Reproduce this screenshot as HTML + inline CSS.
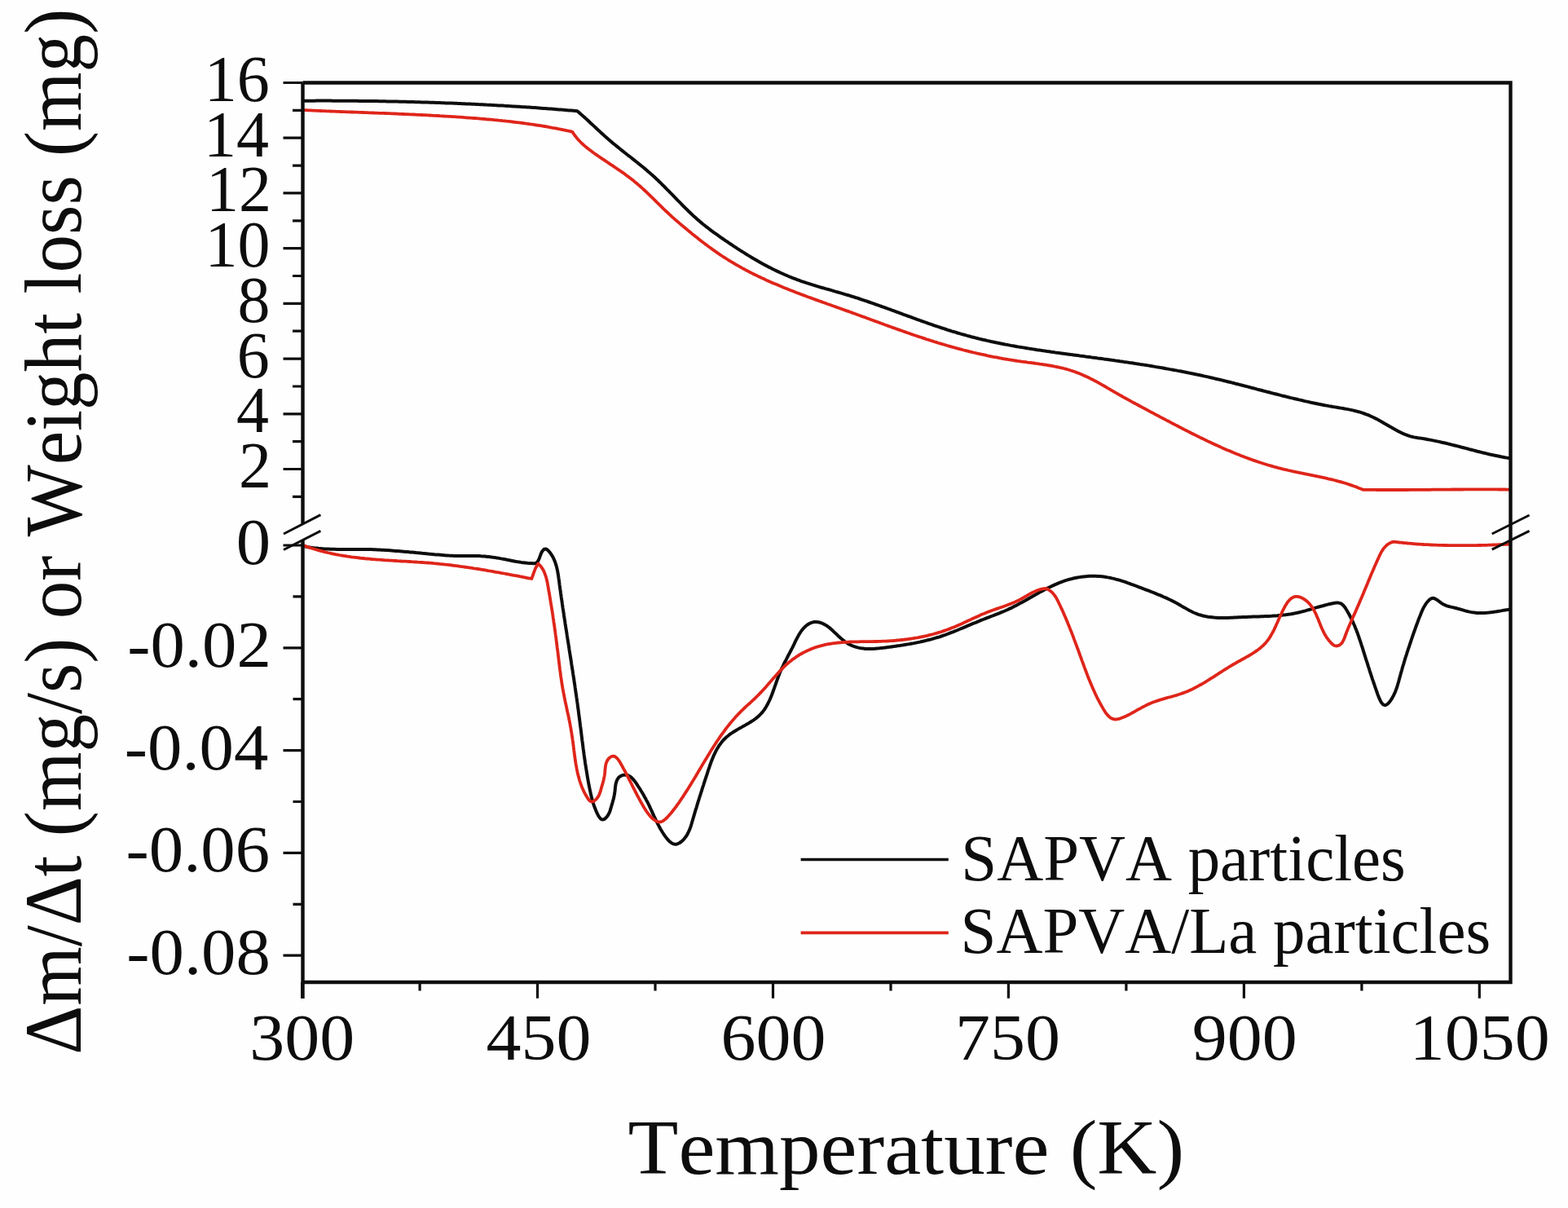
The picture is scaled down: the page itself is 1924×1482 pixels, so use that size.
<!DOCTYPE html><html><head><meta charset="utf-8"><title>TGA/DTG SAPVA</title><style>html,body{margin:0;padding:0;background:#fefefe;}svg{display:block}text{font-family:"Liberation Serif","Times New Roman",serif;font-kerning:none;fill:#0d0d0d}</style></head><body>
<svg width="1924" height="1482" viewBox="0 0 1924 1482">
<rect width="1924" height="1482" fill="#fefefe"/>
<g>
<g fill="none" stroke-linejoin="round" stroke-linecap="round">
<path d="M373.5 123.7L376.0 123.7L378.5 123.7L380.9 123.7L383.4 123.7L385.9 123.7L388.4 123.6L390.9 123.6L393.4 123.6L395.8 123.6L398.3 123.6L400.8 123.6L403.3 123.6L405.8 123.6L408.3 123.7L410.7 123.7L413.2 123.7L415.7 123.7L418.2 123.7L420.7 123.7L423.2 123.7L425.6 123.7L428.1 123.8L430.6 123.8L433.1 123.8L435.6 123.8L438.1 123.8L440.5 123.9L443.0 123.9L445.5 123.9L448.0 123.9L450.5 124.0L452.9 124.0L455.4 124.0L457.9 124.1L460.4 124.1L462.9 124.1L465.4 124.2L467.8 124.2L470.3 124.3L472.8 124.3L475.3 124.4L477.8 124.4L480.3 124.4L482.7 124.5L485.2 124.6L487.7 124.6L490.2 124.7L492.7 124.7L495.1 124.8L497.6 124.8L500.1 124.9L502.6 125.0L505.1 125.0L507.6 125.1L510.0 125.2L512.5 125.2L515.0 125.3L517.5 125.4L520.0 125.4L522.4 125.5L524.9 125.6L527.4 125.7L529.9 125.7L532.4 125.8L534.8 125.9L537.3 126.0L539.8 126.1L542.3 126.2L544.8 126.3L547.2 126.4L549.7 126.4L552.2 126.5L554.7 126.6L557.2 126.7L559.7 126.8L562.1 126.9L564.6 127.0L567.1 127.2L569.6 127.3L572.1 127.4L574.5 127.5L577.0 127.6L579.5 127.7L582.0 127.8L584.5 127.9L586.9 128.1L589.4 128.2L591.9 128.3L594.4 128.4L596.8 128.6L599.3 128.7L601.8 128.8L604.3 128.9L606.8 129.1L609.2 129.2L611.7 129.4L614.2 129.5L616.7 129.6L619.2 129.8L621.6 129.9L624.1 130.1L626.6 130.2L629.1 130.4L631.5 130.5L634.0 130.7L636.5 130.8L639.0 131.0L641.5 131.2L643.9 131.3L646.4 131.5L648.9 131.6L651.4 131.8L653.8 132.0L656.3 132.1L658.8 132.3L661.3 132.5L663.7 132.7L666.2 132.9L668.7 133.0L671.2 133.2L673.7 133.4L676.1 133.6L678.6 133.8L681.1 134.0L683.6 134.2L686.0 134.4L688.5 134.6L691.0 134.8L693.5 135.0L695.9 135.2L698.4 135.4L700.9 135.6L703.4 135.8L705.8 136.0L708.3 136.2L710.2 137.8L712.1 139.5L714.0 141.1L715.8 142.8L717.7 144.4L719.5 146.1L721.4 147.8L723.2 149.5L725.0 151.2L726.9 152.9L728.7 154.6L730.5 156.3L732.3 158.0L734.2 159.7L736.0 161.4L737.8 163.1L739.7 164.7L741.5 166.4L743.4 168.1L745.3 169.7L747.1 171.4L749.0 173.0L750.9 174.6L752.8 176.2L754.8 177.8L756.7 179.4L758.6 180.9L760.6 182.5L762.5 184.1L764.5 185.6L766.5 187.2L768.4 188.7L770.4 190.3L772.4 191.8L774.3 193.3L776.3 194.9L778.2 196.4L780.2 198.0L782.2 199.5L784.1 201.1L786.1 202.7L788.0 204.2L789.9 205.8L791.8 207.4L793.7 209.0L795.6 210.7L797.5 212.3L799.4 214.0L801.3 215.6L803.1 217.3L804.9 219.0L806.8 220.7L808.6 222.5L810.4 224.2L812.1 226.0L813.9 227.7L815.7 229.5L817.5 231.3L819.2 233.1L821.0 234.8L822.7 236.6L824.5 238.4L826.2 240.2L828.0 242.0L829.7 243.8L831.4 245.6L833.2 247.4L835.0 249.2L836.7 251.0L838.5 252.8L840.2 254.5L842.0 256.3L843.8 258.0L845.6 259.8L847.4 261.5L849.2 263.2L851.0 264.9L852.9 266.6L854.7 268.2L856.6 269.9L858.5 271.5L860.4 273.1L862.3 274.7L864.2 276.2L866.2 277.8L868.2 279.3L870.1 280.8L872.1 282.3L874.1 283.8L876.1 285.3L878.1 286.7L880.2 288.2L882.2 289.6L884.2 291.1L886.3 292.5L888.3 293.9L890.4 295.3L892.5 296.7L894.5 298.1L896.6 299.5L898.7 300.9L900.8 302.3L902.9 303.7L905.0 305.1L907.1 306.4L909.2 307.8L911.4 309.1L913.5 310.4L915.6 311.8L917.8 313.1L919.9 314.4L922.1 315.7L924.2 317.0L926.4 318.2L928.6 319.5L930.7 320.7L932.9 322.0L935.1 323.2L937.3 324.4L939.5 325.6L941.7 326.7L943.9 327.9L946.2 329.0L948.4 330.2L950.6 331.3L952.9 332.4L955.1 333.4L957.4 334.5L959.7 335.5L961.9 336.5L964.2 337.5L966.5 338.5L968.8 339.5L971.1 340.4L973.4 341.3L975.8 342.2L978.1 343.1L980.4 343.9L982.8 344.8L985.1 345.6L987.5 346.4L989.8 347.2L992.2 347.9L994.6 348.7L996.9 349.4L999.3 350.1L1001.7 350.9L1004.1 351.6L1006.5 352.3L1008.9 353.0L1011.3 353.7L1013.7 354.4L1016.1 355.0L1018.5 355.7L1020.9 356.4L1023.3 357.1L1025.7 357.8L1028.1 358.5L1030.5 359.2L1032.9 359.9L1035.3 360.6L1037.7 361.3L1040.1 362.0L1042.4 362.7L1044.8 363.5L1047.2 364.2L1049.6 365.0L1052.0 365.7L1054.4 366.5L1056.7 367.3L1059.1 368.1L1061.5 368.9L1063.9 369.7L1066.2 370.5L1068.6 371.3L1071.0 372.1L1073.3 373.0L1075.7 373.8L1078.1 374.6L1080.4 375.5L1082.8 376.3L1085.1 377.2L1087.5 378.0L1089.8 378.9L1092.2 379.7L1094.6 380.6L1096.9 381.4L1099.3 382.3L1101.6 383.2L1104.0 384.0L1106.3 384.9L1108.7 385.8L1111.0 386.6L1113.4 387.5L1115.8 388.3L1118.1 389.2L1120.5 390.1L1122.8 390.9L1125.2 391.8L1127.5 392.6L1129.9 393.5L1132.3 394.3L1134.6 395.1L1137.0 396.0L1139.3 396.8L1141.7 397.6L1144.1 398.5L1146.4 399.3L1148.8 400.1L1151.2 400.9L1153.5 401.7L1155.9 402.5L1158.3 403.2L1160.7 404.0L1163.0 404.8L1165.4 405.5L1167.8 406.3L1170.2 407.0L1172.6 407.7L1175.0 408.5L1177.4 409.2L1179.8 409.9L1182.2 410.5L1184.6 411.2L1187.0 411.9L1189.4 412.5L1191.8 413.2L1194.2 413.8L1196.6 414.4L1199.0 415.0L1201.4 415.6L1203.9 416.2L1206.3 416.8L1208.7 417.3L1211.2 417.9L1213.6 418.4L1216.0 419.0L1218.5 419.5L1220.9 420.0L1223.3 420.5L1225.8 421.0L1228.2 421.5L1230.7 422.0L1233.1 422.5L1235.6 422.9L1238.0 423.4L1240.5 423.9L1242.9 424.3L1245.4 424.7L1247.9 425.2L1250.3 425.6L1252.8 426.0L1255.3 426.4L1257.7 426.8L1260.2 427.2L1262.7 427.6L1265.1 428.0L1267.6 428.4L1270.1 428.8L1272.5 429.2L1275.0 429.5L1277.5 429.9L1280.0 430.3L1282.4 430.6L1284.9 431.0L1287.4 431.3L1289.9 431.7L1292.4 432.0L1294.8 432.4L1297.3 432.7L1299.8 433.1L1302.3 433.4L1304.8 433.7L1307.2 434.1L1309.7 434.4L1312.2 434.7L1314.7 435.1L1317.2 435.4L1319.6 435.7L1322.1 436.0L1324.6 436.4L1327.1 436.7L1329.6 437.0L1332.0 437.4L1334.5 437.7L1337.0 438.0L1339.5 438.4L1342.0 438.7L1344.4 439.0L1346.9 439.4L1349.4 439.7L1351.9 440.0L1354.3 440.4L1356.8 440.7L1359.3 441.1L1361.8 441.4L1364.2 441.8L1366.7 442.1L1369.2 442.5L1371.7 442.8L1374.1 443.2L1376.6 443.5L1379.1 443.9L1381.5 444.2L1384.0 444.6L1386.5 445.0L1388.9 445.3L1391.4 445.7L1393.9 446.1L1396.3 446.5L1398.8 446.9L1401.3 447.2L1403.7 447.6L1406.2 448.0L1408.7 448.4L1411.1 448.8L1413.6 449.2L1416.0 449.6L1418.5 450.1L1421.0 450.5L1423.4 450.9L1425.9 451.3L1428.3 451.7L1430.8 452.2L1433.2 452.6L1435.7 453.1L1438.1 453.5L1440.6 454.0L1443.0 454.4L1445.5 454.9L1447.9 455.3L1450.4 455.8L1452.8 456.3L1455.3 456.8L1457.7 457.3L1460.2 457.7L1462.6 458.2L1465.1 458.7L1467.5 459.3L1469.9 459.8L1472.4 460.3L1474.8 460.8L1477.3 461.4L1479.7 461.9L1482.1 462.4L1484.6 463.0L1487.0 463.5L1489.4 464.1L1491.9 464.7L1494.3 465.3L1496.7 465.8L1499.2 466.4L1501.6 467.0L1504.0 467.6L1506.4 468.2L1508.9 468.8L1511.3 469.4L1513.7 470.0L1516.1 470.7L1518.6 471.3L1521.0 471.9L1523.4 472.5L1525.8 473.1L1528.3 473.8L1530.7 474.4L1533.1 475.0L1535.5 475.7L1538.0 476.3L1540.4 476.9L1542.8 477.6L1545.2 478.2L1547.6 478.8L1550.1 479.5L1552.5 480.1L1554.9 480.7L1557.3 481.3L1559.8 482.0L1562.2 482.6L1564.6 483.2L1567.0 483.8L1569.5 484.4L1571.9 485.1L1574.3 485.7L1576.8 486.3L1579.2 486.9L1581.6 487.5L1584.1 488.1L1586.5 488.6L1588.9 489.2L1591.4 489.8L1593.8 490.4L1596.2 490.9L1598.7 491.5L1601.1 492.1L1603.6 492.6L1606.0 493.1L1608.4 493.7L1610.9 494.2L1613.3 494.7L1615.8 495.2L1618.2 495.7L1620.7 496.2L1623.2 496.7L1625.6 497.2L1628.1 497.6L1630.5 498.1L1633.0 498.5L1635.5 499.0L1637.9 499.4L1640.4 499.8L1642.9 500.2L1645.3 500.6L1647.8 501.0L1650.2 501.5L1652.7 501.9L1655.1 502.4L1657.6 502.9L1660.0 503.4L1662.4 504.0L1664.8 504.6L1667.2 505.2L1669.5 505.9L1671.9 506.7L1674.2 507.5L1676.5 508.3L1678.8 509.2L1681.1 510.2L1683.4 511.3L1685.6 512.3L1687.8 513.4L1690.1 514.6L1692.3 515.8L1694.5 517.0L1696.7 518.2L1698.8 519.5L1701.0 520.7L1703.2 522.0L1705.4 523.3L1707.6 524.5L1709.8 525.8L1712.0 527.0L1714.2 528.2L1716.4 529.4L1718.6 530.5L1720.9 531.6L1723.2 532.6L1725.5 533.5L1727.8 534.3L1730.2 535.1L1732.6 535.8L1735.0 536.4L1737.5 536.8L1740.0 537.2L1742.5 537.5L1744.9 537.9L1747.4 538.3L1749.9 538.7L1752.3 539.2L1754.8 539.6L1757.2 540.1L1759.6 540.6L1762.1 541.1L1764.5 541.6L1766.9 542.1L1769.3 542.7L1771.8 543.2L1774.2 543.8L1776.6 544.4L1779.0 545.0L1781.4 545.6L1783.8 546.2L1786.2 546.8L1788.6 547.4L1791.0 548.0L1793.4 548.7L1795.8 549.3L1798.2 549.9L1800.6 550.5L1803.0 551.2L1805.4 551.8L1807.8 552.4L1810.2 553.0L1812.7 553.7L1815.1 554.3L1817.5 554.9L1819.9 555.5L1822.3 556.0L1824.7 556.6L1827.1 557.2L1829.5 557.7L1832.0 558.3L1834.4 558.8L1836.8 559.3L1839.3 559.8L1841.7 560.3L1844.1 560.7L1846.6 561.2L1849.0 561.6L1851.5 562.0" stroke="#0d0d0d" stroke-width="4.0"/>
<path d="M373.5 135.1L376.0 135.2L378.4 135.3L380.9 135.4L383.4 135.6L385.9 135.7L388.4 135.8L390.8 135.9L393.3 136.0L395.8 136.1L398.3 136.2L400.7 136.3L403.2 136.4L405.7 136.5L408.2 136.6L410.7 136.7L413.1 136.8L415.6 136.9L418.1 137.0L420.6 137.1L423.1 137.2L425.6 137.3L428.0 137.4L430.5 137.5L433.0 137.5L435.5 137.6L438.0 137.7L440.5 137.8L442.9 137.9L445.4 138.0L447.9 138.1L450.4 138.2L452.9 138.3L455.4 138.4L457.8 138.5L460.3 138.6L462.8 138.7L465.3 138.8L467.8 138.9L470.3 138.9L472.8 139.0L475.2 139.1L477.7 139.2L480.2 139.3L482.7 139.4L485.2 139.5L487.7 139.6L490.2 139.8L492.6 139.9L495.1 140.0L497.6 140.1L500.1 140.2L502.6 140.3L505.1 140.4L507.6 140.5L510.0 140.6L512.5 140.8L515.0 140.9L517.5 141.0L520.0 141.1L522.5 141.2L525.0 141.4L527.4 141.5L529.9 141.6L532.4 141.8L534.9 141.9L537.4 142.0L539.9 142.2L542.3 142.3L544.8 142.5L547.3 142.6L549.8 142.8L552.3 142.9L554.8 143.1L557.2 143.2L559.7 143.4L562.2 143.6L564.7 143.7L567.2 143.9L569.6 144.1L572.1 144.3L574.6 144.5L577.1 144.6L579.6 144.8L582.0 145.0L584.5 145.2L587.0 145.4L589.5 145.6L591.9 145.8L594.4 146.0L596.9 146.3L599.4 146.5L601.8 146.7L604.3 146.9L606.8 147.2L609.3 147.4L611.7 147.7L614.2 147.9L616.7 148.2L619.1 148.4L621.6 148.7L624.1 148.9L626.5 149.2L629.0 149.5L631.5 149.8L633.9 150.1L636.4 150.4L638.8 150.7L641.3 151.0L643.8 151.3L646.2 151.7L648.7 152.0L651.1 152.4L653.6 152.7L656.0 153.1L658.5 153.5L660.9 153.8L663.4 154.2L665.8 154.6L668.3 155.0L670.7 155.4L673.2 155.9L675.6 156.3L678.0 156.8L680.5 157.2L682.9 157.7L685.3 158.2L687.8 158.6L690.2 159.1L692.6 159.6L695.0 160.2L697.5 160.7L699.9 161.2L702.3 161.8L703.7 163.9L705.2 166.0L706.7 167.9L708.3 169.9L709.9 171.7L711.6 173.5L713.4 175.3L715.2 177.0L717.0 178.6L718.9 180.2L720.8 181.8L722.7 183.3L724.7 184.8L726.7 186.3L728.7 187.8L730.7 189.2L732.8 190.6L734.9 192.0L736.9 193.4L739.0 194.8L741.1 196.2L743.2 197.6L745.3 199.0L747.3 200.4L749.4 201.8L751.5 203.2L753.6 204.6L755.7 206.0L757.7 207.4L759.8 208.8L761.8 210.2L763.9 211.6L765.9 213.1L767.9 214.6L769.9 216.0L771.9 217.5L773.9 219.0L775.9 220.6L777.8 222.1L779.7 223.7L781.7 225.3L783.5 226.9L785.4 228.5L787.3 230.2L789.1 231.8L790.9 233.5L792.7 235.2L794.5 236.9L796.3 238.7L798.1 240.4L799.9 242.1L801.7 243.9L803.5 245.6L805.2 247.4L807.0 249.1L808.8 250.8L810.6 252.6L812.3 254.3L814.1 256.1L815.9 257.8L817.7 259.5L819.5 261.2L821.3 262.9L823.2 264.6L825.0 266.3L826.8 267.9L828.7 269.6L830.6 271.2L832.5 272.8L834.3 274.4L836.2 276.0L838.1 277.6L840.1 279.2L842.0 280.8L843.9 282.4L845.8 284.0L847.8 285.6L849.7 287.2L851.7 288.7L853.6 290.3L855.6 291.8L857.6 293.4L859.5 294.9L861.5 296.5L863.5 298.0L865.5 299.5L867.5 301.0L869.5 302.5L871.6 304.0L873.6 305.4L875.6 306.9L877.7 308.3L879.7 309.8L881.8 311.2L883.8 312.6L885.9 314.0L888.0 315.3L890.1 316.7L892.2 318.0L894.3 319.3L896.4 320.7L898.6 321.9L900.7 323.2L902.8 324.5L905.0 325.7L907.2 326.9L909.3 328.1L911.5 329.3L913.7 330.5L915.9 331.7L918.1 332.8L920.3 334.0L922.5 335.1L924.7 336.2L926.9 337.3L929.2 338.4L931.4 339.5L933.7 340.5L935.9 341.6L938.2 342.6L940.4 343.7L942.7 344.7L945.0 345.7L947.2 346.7L949.5 347.7L951.8 348.6L954.1 349.6L956.4 350.6L958.7 351.5L961.0 352.5L963.3 353.4L965.6 354.3L967.9 355.3L970.3 356.2L972.6 357.1L974.9 358.0L977.2 358.9L979.6 359.8L981.9 360.7L984.2 361.6L986.6 362.4L988.9 363.3L991.3 364.2L993.6 365.0L996.0 365.9L998.3 366.7L1000.7 367.6L1003.0 368.4L1005.4 369.3L1007.7 370.1L1010.1 371.0L1012.4 371.8L1014.8 372.7L1017.1 373.5L1019.5 374.3L1021.9 375.2L1024.2 376.0L1026.6 376.9L1028.9 377.7L1031.3 378.5L1033.6 379.4L1036.0 380.2L1038.4 381.1L1040.7 381.9L1043.1 382.8L1045.4 383.6L1047.8 384.5L1050.1 385.3L1052.5 386.2L1054.8 387.0L1057.1 387.9L1059.5 388.7L1061.8 389.6L1064.2 390.5L1066.5 391.3L1068.9 392.2L1071.2 393.0L1073.5 393.9L1075.9 394.7L1078.2 395.6L1080.6 396.5L1082.9 397.3L1085.3 398.2L1087.6 399.0L1089.9 399.9L1092.3 400.7L1094.6 401.6L1097.0 402.4L1099.3 403.2L1101.7 404.1L1104.0 404.9L1106.4 405.7L1108.7 406.6L1111.1 407.4L1113.4 408.2L1115.8 409.0L1118.1 409.9L1120.5 410.7L1122.8 411.5L1125.2 412.3L1127.5 413.1L1129.9 413.8L1132.3 414.6L1134.6 415.4L1137.0 416.2L1139.4 416.9L1141.7 417.7L1144.1 418.4L1146.5 419.2L1148.8 419.9L1151.2 420.7L1153.6 421.4L1156.0 422.1L1158.4 422.8L1160.8 423.5L1163.2 424.2L1165.5 424.9L1167.9 425.6L1170.3 426.2L1172.7 426.9L1175.2 427.6L1177.6 428.2L1180.0 428.8L1182.4 429.5L1184.8 430.1L1187.2 430.7L1189.6 431.3L1192.1 431.9L1194.5 432.5L1196.9 433.0L1199.4 433.6L1201.8 434.1L1204.2 434.7L1206.7 435.2L1209.1 435.7L1211.6 436.3L1214.0 436.8L1216.5 437.3L1218.9 437.8L1221.4 438.2L1223.8 438.7L1226.3 439.2L1228.8 439.6L1231.2 440.1L1233.7 440.5L1236.2 440.9L1238.6 441.3L1241.1 441.7L1243.6 442.1L1246.1 442.5L1248.6 442.9L1251.0 443.2L1253.5 443.6L1256.0 443.9L1258.5 444.2L1261.0 444.6L1263.5 444.9L1266.0 445.2L1268.5 445.5L1271.0 445.9L1273.4 446.2L1275.9 446.6L1278.4 446.9L1280.9 447.3L1283.3 447.7L1285.8 448.1L1288.3 448.5L1290.7 448.9L1293.1 449.4L1295.6 449.8L1298.0 450.3L1300.4 450.9L1302.8 451.4L1305.2 452.0L1307.6 452.6L1310.0 453.3L1312.3 454.0L1314.7 454.7L1317.0 455.5L1319.3 456.3L1321.6 457.2L1323.9 458.1L1326.2 459.0L1328.5 459.9L1330.7 460.9L1333.0 461.9L1335.2 463.0L1337.4 464.1L1339.6 465.2L1341.8 466.3L1344.0 467.5L1346.2 468.6L1348.4 469.8L1350.6 471.1L1352.7 472.3L1354.9 473.5L1357.1 474.8L1359.2 476.1L1361.4 477.3L1363.5 478.6L1365.7 479.8L1367.8 481.1L1370.0 482.3L1372.2 483.6L1374.3 484.8L1376.5 486.0L1378.7 487.3L1380.9 488.5L1383.0 489.7L1385.2 490.9L1387.4 492.1L1389.6 493.3L1391.8 494.5L1394.0 495.7L1396.1 496.8L1398.3 498.0L1400.5 499.2L1402.7 500.4L1404.9 501.5L1407.1 502.7L1409.3 503.9L1411.5 505.1L1413.7 506.2L1415.9 507.4L1418.1 508.6L1420.3 509.7L1422.5 510.9L1424.7 512.1L1426.9 513.2L1429.2 514.4L1431.4 515.6L1433.6 516.7L1435.8 517.9L1438.0 519.1L1440.2 520.2L1442.4 521.4L1444.7 522.5L1446.9 523.7L1449.1 524.8L1451.3 526.0L1453.5 527.1L1455.8 528.3L1458.0 529.4L1460.2 530.5L1462.5 531.7L1464.7 532.8L1466.9 533.9L1469.2 535.0L1471.4 536.1L1473.7 537.2L1475.9 538.3L1478.2 539.4L1480.4 540.5L1482.7 541.6L1484.9 542.6L1487.2 543.7L1489.5 544.7L1491.7 545.8L1494.0 546.8L1496.3 547.8L1498.6 548.9L1500.8 549.9L1503.1 550.9L1505.4 551.9L1507.7 552.8L1510.0 553.8L1512.3 554.8L1514.6 555.7L1516.9 556.7L1519.2 557.6L1521.5 558.5L1523.8 559.4L1526.1 560.3L1528.5 561.2L1530.8 562.1L1533.1 562.9L1535.5 563.8L1537.8 564.6L1540.2 565.4L1542.5 566.2L1544.9 567.0L1547.2 567.8L1549.6 568.5L1552.0 569.3L1554.3 570.0L1556.7 570.7L1559.1 571.4L1561.5 572.1L1563.9 572.8L1566.3 573.4L1568.7 574.1L1571.1 574.7L1573.5 575.3L1575.9 575.9L1578.4 576.4L1580.8 577.0L1583.2 577.5L1585.7 578.1L1588.1 578.6L1590.5 579.1L1593.0 579.6L1595.4 580.1L1597.9 580.6L1600.3 581.1L1602.8 581.6L1605.2 582.1L1607.7 582.6L1610.1 583.1L1612.6 583.6L1615.0 584.1L1617.5 584.6L1619.9 585.1L1622.4 585.6L1624.8 586.2L1627.2 586.7L1629.7 587.3L1632.1 587.8L1634.5 588.4L1636.9 589.0L1639.3 589.6L1641.8 590.3L1644.2 590.9L1646.6 591.6L1648.9 592.3L1651.3 593.0L1653.7 593.8L1656.1 594.6L1658.4 595.4L1660.8 596.2L1663.1 597.0L1665.5 597.9L1667.8 598.9L1670.1 599.8L1672.4 600.8L1674.9 600.8L1677.4 600.9L1679.9 600.9L1682.3 600.9L1684.8 600.9L1687.3 600.9L1689.8 601.0L1692.3 601.0L1694.8 601.0L1697.3 601.0L1699.8 601.0L1702.2 601.0L1704.7 601.0L1707.2 601.0L1709.7 601.0L1712.2 601.0L1714.7 601.0L1717.2 601.0L1719.7 601.0L1722.1 601.0L1724.6 601.0L1727.1 601.0L1729.6 600.9L1732.1 600.9L1734.6 600.9L1737.1 600.9L1739.5 600.9L1742.0 600.9L1744.5 600.8L1747.0 600.8L1749.5 600.8L1752.0 600.8L1754.5 600.8L1757.0 600.7L1759.4 600.7L1761.9 600.7L1764.4 600.7L1766.9 600.7L1769.4 600.6L1771.9 600.6L1774.4 600.6L1776.9 600.6L1779.4 600.6L1781.8 600.5L1784.3 600.5L1786.8 600.5L1789.3 600.5L1791.8 600.5L1794.3 600.5L1796.8 600.4L1799.3 600.4L1801.7 600.4L1804.2 600.4L1806.7 600.4L1809.2 600.4L1811.7 600.4L1814.2 600.4L1816.7 600.4L1819.2 600.4L1821.6 600.4L1824.1 600.4L1826.6 600.4L1829.1 600.4L1831.6 600.4L1834.1 600.4L1836.6 600.4L1839.1 600.5L1841.5 600.5L1844.0 600.5L1846.5 600.5L1849.0 600.6L1851.5 600.6" stroke="#df251a" stroke-width="3.8"/>
<path d="M373.6 670.3L376.1 670.8L378.5 671.2L381.0 671.6L383.5 672.0L386.0 672.3L388.4 672.5L390.9 672.8L393.4 673.0L395.9 673.2L398.4 673.4L400.9 673.5L403.4 673.6L405.8 673.7L408.3 673.8L410.8 673.8L413.3 673.9L415.8 673.9L418.3 673.9L420.8 673.9L423.3 673.9L425.8 673.9L428.3 673.9L430.8 673.9L433.3 673.9L435.8 673.9L438.3 673.9L440.8 673.9L443.3 673.9L445.8 673.9L448.3 673.9L450.8 674.0L453.3 674.0L455.8 674.1L458.3 674.2L460.8 674.3L463.3 674.4L465.8 674.5L468.3 674.7L470.8 674.8L473.3 675.0L475.8 675.1L478.3 675.3L480.8 675.5L483.3 675.7L485.8 675.9L488.3 676.1L490.8 676.3L493.2 676.5L495.7 676.7L498.2 676.9L500.7 677.1L503.2 677.4L505.7 677.6L508.2 677.8L510.7 678.1L513.2 678.3L515.7 678.5L518.1 678.8L520.6 679.0L523.1 679.2L525.6 679.5L528.1 679.7L530.6 679.9L533.1 680.2L535.6 680.4L538.0 680.6L540.5 680.8L543.0 681.0L545.5 681.2L548.0 681.4L550.5 681.6L553.0 681.7L555.4 681.8L557.9 681.9L560.4 682.0L562.9 682.0L565.4 682.0L567.9 682.0L570.4 682.0L572.9 682.0L575.4 682.0L577.9 682.0L580.3 682.0L582.8 682.0L585.3 682.1L587.8 682.1L590.3 682.3L592.8 682.4L595.2 682.6L597.7 682.9L600.2 683.1L602.6 683.4L605.1 683.8L607.6 684.1L610.0 684.5L612.5 684.9L615.0 685.4L617.4 685.8L619.9 686.3L622.3 686.8L624.8 687.2L627.2 687.7L629.7 688.2L632.2 688.7L634.6 689.1L637.1 689.5L639.6 689.9L642.0 690.2L644.5 690.5L647.0 690.8L649.5 691.0L652.0 691.1L654.5 691.2L657.0 691.2L658.9 689.9L660.3 688.0L661.5 685.6L662.5 682.9L663.5 680.1L664.6 677.5L666.1 675.3L667.7 673.7L669.6 673.4L671.4 674.3L673.1 675.9L674.7 677.8L676.2 679.8L677.5 681.8L678.7 683.9L679.7 686.1L680.7 688.3L681.5 690.6L682.2 692.9L682.9 695.3L683.5 697.7L684.0 700.1L684.5 702.6L684.9 705.1L685.3 707.6L685.6 710.1L686.0 712.6L686.3 715.2L686.6 717.7L687.0 720.2L687.3 722.7L687.7 725.2L688.0 727.7L688.4 730.2L688.7 732.7L689.1 735.2L689.5 737.7L689.8 740.2L690.2 742.7L690.5 745.2L690.9 747.7L691.3 750.2L691.7 752.6L692.0 755.1L692.4 757.6L692.8 760.1L693.2 762.5L693.5 765.0L693.9 767.5L694.3 770.0L694.7 772.4L695.1 774.9L695.5 777.4L695.8 779.8L696.2 782.3L696.6 784.7L697.0 787.2L697.4 789.7L697.8 792.1L698.2 794.6L698.5 797.0L698.9 799.5L699.3 802.0L699.7 804.4L700.1 806.9L700.5 809.3L700.9 811.8L701.2 814.2L701.6 816.7L702.0 819.2L702.4 821.6L702.8 824.1L703.1 826.5L703.5 829.0L703.9 831.4L704.3 833.9L704.6 836.4L705.0 838.8L705.4 841.3L705.7 843.7L706.1 846.2L706.4 848.7L706.8 851.1L707.2 853.6L707.5 856.1L707.9 858.5L708.2 861.0L708.6 863.5L708.9 866.0L709.2 868.4L709.6 870.9L709.9 873.4L710.2 875.9L710.5 878.4L710.9 880.9L711.2 883.3L711.5 885.8L711.8 888.3L712.1 890.8L712.5 893.3L712.8 895.8L713.1 898.3L713.4 900.8L713.7 903.3L714.0 905.8L714.3 908.3L714.7 910.8L715.0 913.3L715.3 915.8L715.6 918.2L716.0 920.7L716.3 923.2L716.6 925.7L717.0 928.2L717.3 930.7L717.7 933.1L718.0 935.6L718.4 938.1L718.8 940.5L719.2 943.0L719.6 945.5L720.0 947.9L720.4 950.4L720.8 952.8L721.2 955.2L721.6 957.7L722.1 960.1L722.5 962.5L723.0 964.9L723.5 967.4L724.0 969.8L724.5 972.2L725.0 974.6L725.6 977.0L726.2 979.4L726.8 981.8L727.5 984.2L728.3 986.6L729.1 989.1L730.1 991.6L731.1 994.1L732.2 996.6L733.4 999.1L734.7 1001.6L736.2 1003.6L737.7 1005.1L739.5 1005.6L741.3 1005.1L743.2 1003.6L745.0 1001.6L746.5 999.3L747.7 996.9L748.7 994.4L749.4 991.9L750.1 989.5L750.8 987.1L751.5 984.8L752.1 982.5L752.8 980.2L753.3 977.8L753.8 975.4L754.2 972.9L754.6 970.3L754.8 967.6L755.1 964.9L755.5 962.3L756.1 959.8L756.9 957.5L758.0 955.4L759.4 953.6L761.3 952.2L763.7 951.1L766.2 950.6L768.6 950.7L770.8 951.3L772.9 952.4L774.8 953.8L776.5 955.6L778.2 957.6L779.8 959.7L781.3 961.9L782.7 964.1L784.2 966.3L785.6 968.5L786.9 970.7L788.2 972.8L789.5 975.0L790.7 977.2L792.0 979.4L793.1 981.6L794.3 983.8L795.4 985.9L796.5 988.1L797.5 990.3L798.5 992.5L799.5 994.7L800.5 996.9L801.5 999.1L802.5 1001.3L803.6 1003.5L804.6 1005.7L805.7 1008.0L806.8 1010.2L808.0 1012.4L809.2 1014.7L810.4 1017.0L811.8 1019.2L813.2 1021.5L814.7 1023.8L816.3 1026.1L818.0 1028.4L819.8 1030.5L821.6 1032.4L823.6 1033.9L825.6 1035.1L827.6 1035.7L829.7 1035.7L831.9 1035.1L834.0 1034.0L836.1 1032.5L838.1 1030.7L839.9 1028.6L841.5 1026.5L843.0 1024.3L844.2 1022.0L845.3 1019.7L846.3 1017.4L847.2 1015.0L848.0 1012.6L848.7 1010.2L849.4 1007.8L850.1 1005.4L850.8 1003.0L851.5 1000.6L852.2 998.3L852.9 995.9L853.6 993.5L854.4 991.1L855.1 988.8L855.8 986.4L856.5 984.0L857.3 981.7L858.0 979.3L858.7 977.0L859.5 974.6L860.2 972.3L861.0 969.9L861.7 967.5L862.5 965.2L863.3 962.8L864.0 960.4L864.8 958.0L865.6 955.6L866.4 953.2L867.2 950.8L868.0 948.4L868.7 946.0L869.5 943.6L870.4 941.2L871.2 938.7L872.1 936.3L872.9 933.9L873.9 931.6L874.8 929.2L875.8 926.9L876.9 924.6L878.0 922.4L879.1 920.2L880.3 918.1L881.6 916.0L882.9 913.9L884.4 912.0L885.8 910.1L887.4 908.2L889.1 906.5L890.8 904.8L892.7 903.2L894.6 901.7L896.6 900.2L898.7 898.8L900.8 897.5L902.9 896.2L905.1 894.9L907.3 893.6L909.6 892.4L911.8 891.1L914.0 889.9L916.2 888.6L918.4 887.4L920.6 886.0L922.7 884.7L924.8 883.3L926.8 881.9L928.7 880.4L930.6 878.8L932.3 877.1L934.0 875.4L935.6 873.6L937.1 871.6L938.5 869.7L939.8 867.6L941.0 865.5L942.2 863.3L943.3 861.0L944.4 858.8L945.4 856.4L946.4 854.1L947.3 851.7L948.2 849.3L949.1 846.8L950.0 844.4L950.8 841.9L951.7 839.5L952.5 837.1L953.4 834.6L954.3 832.2L955.2 829.8L956.1 827.5L957.0 825.1L958.0 822.8L959.0 820.6L960.1 818.3L961.2 816.1L962.2 813.9L963.3 811.8L964.5 809.6L965.6 807.4L966.7 805.3L967.8 803.1L969.0 800.9L970.1 798.8L971.2 796.6L972.4 794.4L973.5 792.1L974.6 789.9L975.6 787.6L976.7 785.4L977.9 783.1L979.1 780.9L980.3 778.6L981.7 776.5L983.1 774.3L984.7 772.3L986.4 770.3L988.2 768.5L990.2 766.9L992.2 765.5L994.3 764.4L996.6 763.6L998.9 763.0L1001.3 762.9L1003.8 763.2L1006.4 763.8L1008.9 764.7L1011.3 765.9L1013.5 767.1L1015.6 768.5L1017.5 769.9L1019.3 771.4L1021.1 773.0L1022.8 774.7L1024.6 776.4L1026.5 778.1L1028.3 779.9L1030.3 781.7L1032.3 783.5L1034.3 785.2L1036.4 786.8L1038.6 788.3L1040.8 789.7L1043.0 790.9L1045.2 792.0L1047.5 792.9L1049.8 793.7L1052.2 794.4L1054.5 794.9L1056.9 795.3L1059.3 795.6L1061.7 795.9L1064.2 796.0L1066.6 796.0L1069.1 796.0L1071.6 795.9L1074.1 795.7L1076.6 795.5L1079.1 795.3L1081.6 795.0L1084.1 794.7L1086.6 794.4L1089.1 794.1L1091.6 793.7L1094.1 793.4L1096.6 793.1L1099.1 792.7L1101.6 792.3L1104.1 792.0L1106.6 791.6L1109.1 791.2L1111.5 790.8L1114.0 790.4L1116.5 790.0L1118.9 789.5L1121.4 789.1L1123.8 788.6L1126.3 788.1L1128.7 787.6L1131.2 787.0L1133.6 786.5L1136.0 785.9L1138.4 785.3L1140.8 784.7L1143.2 784.1L1145.6 783.4L1148.0 782.7L1150.4 782.0L1152.8 781.3L1155.2 780.5L1157.5 779.7L1159.9 778.9L1162.2 778.0L1164.5 777.1L1166.9 776.2L1169.2 775.3L1171.5 774.4L1173.9 773.5L1176.2 772.5L1178.5 771.5L1180.8 770.6L1183.1 769.6L1185.4 768.6L1187.7 767.6L1190.0 766.7L1192.3 765.7L1194.6 764.7L1197.0 763.8L1199.3 762.8L1201.6 761.9L1203.9 760.9L1206.2 760.0L1208.6 759.1L1210.9 758.2L1213.2 757.3L1215.5 756.4L1217.9 755.5L1220.2 754.6L1222.5 753.7L1224.8 752.8L1227.1 751.9L1229.4 750.9L1231.7 750.0L1234.0 749.0L1236.3 748.0L1238.5 746.9L1240.8 745.9L1243.0 744.8L1245.2 743.6L1247.5 742.5L1249.7 741.3L1251.9 740.1L1254.1 738.9L1256.3 737.7L1258.5 736.5L1260.7 735.3L1262.8 734.0L1265.0 732.8L1267.2 731.5L1269.4 730.3L1271.6 729.0L1273.8 727.8L1275.9 726.6L1278.1 725.4L1280.3 724.2L1282.6 723.0L1284.8 721.9L1287.0 720.8L1289.2 719.7L1291.5 718.6L1293.7 717.6L1296.0 716.6L1298.3 715.6L1300.6 714.7L1302.9 713.8L1305.3 712.9L1307.6 712.1L1310.0 711.4L1312.4 710.7L1314.8 710.1L1317.2 709.5L1319.6 709.0L1322.1 708.5L1324.6 708.1L1327.0 707.7L1329.5 707.4L1332.0 707.2L1334.5 707.0L1337.0 706.8L1339.5 706.8L1342.0 706.7L1344.5 706.8L1347.0 706.9L1349.5 707.1L1351.9 707.3L1354.4 707.6L1356.9 707.9L1359.4 708.4L1361.8 708.8L1364.3 709.4L1366.7 709.9L1369.1 710.6L1371.6 711.2L1374.0 711.9L1376.4 712.7L1378.8 713.4L1381.2 714.2L1383.6 715.1L1385.9 715.9L1388.3 716.8L1390.7 717.6L1393.0 718.5L1395.4 719.4L1397.7 720.3L1400.1 721.2L1402.4 722.1L1404.7 723.0L1407.0 723.8L1409.4 724.7L1411.7 725.6L1414.0 726.5L1416.3 727.4L1418.5 728.3L1420.8 729.3L1423.1 730.2L1425.4 731.2L1427.6 732.2L1429.9 733.2L1432.2 734.2L1434.4 735.2L1436.6 736.3L1438.9 737.4L1441.1 738.6L1443.4 739.8L1445.6 741.0L1447.8 742.3L1450.0 743.6L1452.3 744.9L1454.5 746.1L1456.7 747.4L1459.0 748.7L1461.2 749.8L1463.5 751.0L1465.8 752.0L1468.1 752.9L1470.4 753.8L1472.8 754.5L1475.1 755.2L1477.5 755.8L1479.9 756.3L1482.3 756.7L1484.7 757.0L1487.2 757.3L1489.6 757.6L1492.1 757.7L1494.6 757.9L1497.0 757.9L1499.5 758.0L1502.0 758.0L1504.5 757.9L1507.0 757.9L1509.5 757.8L1512.1 757.7L1514.6 757.6L1517.1 757.5L1519.6 757.3L1522.2 757.2L1524.7 757.1L1527.2 757.0L1529.7 756.9L1532.3 756.8L1534.8 756.7L1537.3 756.6L1539.8 756.5L1542.3 756.5L1544.8 756.4L1547.3 756.3L1549.8 756.2L1552.3 756.1L1554.9 756.0L1557.3 755.9L1559.8 755.8L1562.3 755.6L1564.8 755.4L1567.3 755.3L1569.8 755.0L1572.3 754.8L1574.7 754.5L1577.2 754.3L1579.6 753.9L1582.1 753.6L1584.6 753.2L1587.0 752.7L1589.4 752.3L1591.9 751.8L1594.3 751.2L1596.7 750.6L1599.1 750.0L1601.6 749.4L1604.0 748.7L1606.4 748.0L1608.8 747.3L1611.2 746.6L1613.6 745.9L1616.0 745.2L1618.4 744.5L1620.8 743.8L1623.2 743.2L1625.7 742.5L1628.1 741.9L1630.5 741.3L1632.9 740.7L1635.3 740.2L1637.8 739.7L1640.1 739.5L1642.4 739.6L1644.5 740.1L1646.4 741.1L1648.2 742.6L1649.8 744.5L1651.3 746.7L1652.7 749.0L1654.1 751.4L1655.4 753.7L1656.6 756.0L1657.8 758.4L1659.0 760.7L1660.1 763.1L1661.1 765.5L1662.2 767.8L1663.1 770.2L1664.1 772.6L1665.0 774.9L1665.9 777.3L1666.7 779.7L1667.5 782.0L1668.3 784.4L1669.1 786.7L1669.9 789.0L1670.6 791.3L1671.4 793.6L1672.1 795.9L1672.8 798.2L1673.5 800.4L1674.2 802.7L1674.9 804.9L1675.6 807.1L1676.3 809.4L1677.1 811.6L1677.8 813.9L1678.5 816.1L1679.2 818.4L1680.0 820.7L1680.7 823.1L1681.5 825.5L1682.3 827.9L1683.1 830.3L1683.9 832.8L1684.8 835.4L1685.7 838.0L1686.6 840.6L1687.5 843.3L1688.5 846.1L1689.5 849.0L1690.5 851.9L1691.6 854.7L1692.7 857.4L1693.9 859.9L1695.1 862.0L1696.4 863.6L1697.8 864.7L1699.3 865.2L1700.8 864.9L1702.4 863.9L1704.1 862.3L1705.7 860.3L1707.3 857.9L1708.7 855.4L1710.1 852.9L1711.3 850.4L1712.3 848.0L1713.2 845.6L1714.1 843.2L1714.8 840.8L1715.5 838.5L1716.2 836.1L1716.8 833.8L1717.4 831.5L1718.1 829.1L1718.7 826.7L1719.4 824.4L1720.1 822.0L1720.7 819.6L1721.4 817.2L1722.2 814.8L1722.9 812.4L1723.6 810.0L1724.3 807.6L1725.1 805.2L1725.9 802.8L1726.6 800.4L1727.4 798.1L1728.2 795.7L1729.0 793.3L1729.8 790.9L1730.6 788.5L1731.4 786.1L1732.2 783.7L1733.0 781.4L1733.8 779.0L1734.6 776.7L1735.5 774.3L1736.3 772.0L1737.1 769.7L1738.0 767.3L1738.8 765.0L1739.7 762.7L1740.5 760.4L1741.4 758.0L1742.4 755.7L1743.3 753.4L1744.2 751.1L1745.3 748.7L1746.3 746.4L1747.5 744.2L1748.9 742.0L1750.3 739.8L1752.0 737.8L1753.8 735.9L1755.7 734.5L1757.8 733.8L1759.8 734.1L1762.0 735.1L1764.1 736.5L1766.3 738.2L1768.6 739.9L1770.8 741.3L1773.2 742.4L1775.5 743.3L1777.9 744.0L1780.3 744.6L1782.7 745.1L1785.1 745.7L1787.5 746.3L1789.9 747.0L1792.3 747.7L1794.8 748.4L1797.2 749.1L1799.6 749.8L1802.1 750.4L1804.5 750.9L1806.9 751.3L1809.4 751.6L1811.9 751.9L1814.3 752.0L1816.8 752.0L1819.3 752.0L1821.8 751.9L1824.3 751.7L1826.8 751.5L1829.3 751.2L1831.8 750.9L1834.2 750.6L1836.7 750.2L1839.2 749.8L1841.7 749.4L1844.1 748.9L1846.6 748.5L1849.1 748.1L1851.5 747.7" stroke="#0d0d0d" stroke-width="4.0"/>
<path d="M373.4 669.5L375.8 670.4L378.1 671.2L380.5 672.0L382.9 672.8L385.3 673.5L387.7 674.2L390.1 674.9L392.5 675.6L394.9 676.2L397.3 676.8L399.7 677.4L402.1 678.0L404.5 678.5L406.9 679.1L409.3 679.6L411.7 680.1L414.2 680.5L416.6 681.0L419.0 681.4L421.5 681.8L423.9 682.2L426.3 682.6L428.8 682.9L431.2 683.3L433.7 683.6L436.1 683.9L438.6 684.2L441.0 684.5L443.5 684.8L446.0 685.0L448.4 685.3L450.9 685.5L453.3 685.7L455.8 686.0L458.3 686.2L460.7 686.4L463.2 686.6L465.7 686.7L468.1 686.9L470.6 687.1L473.1 687.3L475.6 687.4L478.0 687.6L480.5 687.7L483.0 687.9L485.5 688.0L487.9 688.2L490.4 688.3L492.9 688.5L495.4 688.6L497.9 688.7L500.3 688.9L502.8 689.0L505.3 689.2L507.8 689.3L510.2 689.5L512.7 689.7L515.2 689.8L517.7 690.0L520.1 690.2L522.6 690.4L525.1 690.5L527.5 690.7L530.0 690.9L532.5 691.2L534.9 691.4L537.4 691.6L539.9 691.9L542.3 692.1L544.8 692.4L547.3 692.6L549.7 692.9L552.2 693.2L554.6 693.5L557.1 693.8L559.5 694.1L562.0 694.4L564.4 694.8L566.9 695.1L569.3 695.5L571.8 695.8L574.2 696.2L576.7 696.5L579.1 696.9L581.6 697.3L584.0 697.6L586.5 698.0L588.9 698.4L591.4 698.8L593.8 699.2L596.2 699.6L598.7 700.1L601.1 700.5L603.6 700.9L606.0 701.3L608.4 701.8L610.9 702.2L613.3 702.6L615.8 703.1L618.2 703.5L620.6 704.0L623.1 704.4L625.5 704.9L627.9 705.3L630.4 705.8L632.8 706.2L635.2 706.7L637.7 707.2L640.1 707.6L642.6 708.1L645.0 708.6L647.4 709.1L649.9 709.5L652.3 710.0L653.1 707.9L653.9 705.8L654.6 703.7L655.4 701.5L656.2 699.4L657.0 697.3L658.1 695.4L659.2 693.4L660.4 691.5L662.2 693.3L663.8 695.1L665.2 697.1L666.5 699.2L667.6 701.4L668.5 703.7L669.3 706.0L670.1 708.3L670.7 710.8L671.3 713.2L671.8 715.7L672.2 718.2L672.7 720.7L673.1 723.2L673.5 725.7L674.0 728.1L674.4 730.6L674.8 733.1L675.2 735.5L675.6 738.0L676.0 740.5L676.4 742.9L676.8 745.4L677.2 747.9L677.6 750.3L678.0 752.8L678.4 755.2L678.7 757.7L679.1 760.1L679.4 762.6L679.8 765.0L680.2 767.5L680.5 769.9L680.8 772.4L681.2 774.8L681.5 777.3L681.8 779.8L682.2 782.2L682.5 784.7L682.8 787.2L683.1 789.6L683.4 792.1L683.7 794.6L684.1 797.1L684.4 799.6L684.7 802.0L685.0 804.5L685.3 807.0L685.6 809.5L685.9 812.0L686.2 814.5L686.5 817.0L686.8 819.5L687.1 822.0L687.5 824.5L687.8 827.0L688.1 829.5L688.5 832.0L688.9 834.5L689.2 836.9L689.6 839.4L690.0 841.9L690.4 844.3L690.9 846.8L691.3 849.2L691.8 851.7L692.3 854.1L692.7 856.5L693.2 858.9L693.7 861.4L694.3 863.8L694.8 866.2L695.3 868.6L695.8 871.0L696.3 873.4L696.9 875.8L697.4 878.2L697.9 880.7L698.4 883.1L698.9 885.5L699.4 888.0L699.8 890.4L700.3 892.8L700.7 895.3L701.1 897.8L701.5 900.2L701.9 902.7L702.3 905.2L702.6 907.7L703.0 910.3L703.3 912.8L703.6 915.3L703.9 917.8L704.2 920.3L704.6 922.9L704.9 925.4L705.2 927.9L705.6 930.4L705.9 932.9L706.3 935.4L706.7 937.9L707.2 940.4L707.6 942.9L708.1 945.3L708.6 947.7L709.2 950.2L709.8 952.6L710.5 954.9L711.1 957.3L711.9 959.6L712.7 962.0L713.5 964.2L714.4 966.5L715.4 968.7L716.4 970.9L717.5 973.1L718.7 975.2L719.9 977.3L721.2 979.4L722.6 981.4L724.2 983.0L726.2 983.6L728.5 982.9L730.7 981.3L732.7 979.2L734.3 976.9L735.4 974.5L736.4 971.9L737.1 969.4L737.8 966.9L738.5 964.5L739.2 962.2L739.9 959.8L740.5 957.5L741.0 955.2L741.5 952.8L741.9 950.3L742.2 947.7L742.4 945.1L742.7 942.4L743.0 939.8L743.5 937.2L744.3 934.8L745.5 932.5L747.0 930.5L748.9 928.9L750.8 927.9L752.7 927.7L754.5 928.2L756.2 929.3L757.8 930.9L759.3 932.9L760.7 935.1L762.1 937.5L763.4 939.9L764.7 942.3L766.0 944.6L767.3 947.0L768.5 949.3L769.6 951.6L770.8 953.8L772.0 956.1L773.1 958.3L774.2 960.5L775.3 962.7L776.4 964.9L777.5 967.1L778.6 969.2L779.7 971.4L780.8 973.5L781.9 975.7L783.1 977.8L784.2 980.0L785.4 982.1L786.6 984.2L787.8 986.4L789.0 988.5L790.3 990.7L791.6 992.9L793.0 995.0L794.5 997.1L796.1 999.2L797.8 1001.2L799.6 1003.2L801.7 1005.0L803.8 1006.6L806.1 1007.8L808.3 1008.4L810.5 1008.4L812.6 1007.7L814.7 1006.4L816.6 1004.8L818.5 1003.0L820.3 1001.0L822.0 999.1L823.6 997.2L825.2 995.2L826.7 993.3L828.2 991.3L829.7 989.3L831.1 987.3L832.6 985.3L834.0 983.3L835.4 981.2L836.8 979.2L838.2 977.1L839.5 975.0L840.9 972.9L842.2 970.9L843.6 968.8L844.9 966.6L846.2 964.5L847.5 962.4L848.8 960.3L850.1 958.1L851.4 956.0L852.7 953.9L854.0 951.7L855.3 949.6L856.5 947.4L857.8 945.2L859.1 943.1L860.4 940.9L861.6 938.8L862.9 936.6L864.2 934.5L865.5 932.3L866.8 930.2L868.1 928.0L869.4 925.9L870.7 923.8L872.0 921.6L873.3 919.5L874.7 917.4L876.0 915.3L877.4 913.2L878.7 911.1L880.1 909.0L881.5 907.0L882.9 904.9L884.3 902.9L885.7 900.8L887.2 898.8L888.7 896.8L890.1 894.8L891.6 892.9L893.2 890.9L894.7 889.0L896.3 887.0L897.9 885.1L899.5 883.2L901.1 881.4L902.7 879.5L904.4 877.7L906.1 875.9L907.9 874.1L909.6 872.3L911.4 870.6L913.2 868.8L915.0 867.1L916.9 865.4L918.8 863.8L920.6 862.1L922.5 860.4L924.3 858.7L926.2 857.0L928.0 855.2L929.7 853.5L931.5 851.7L933.2 849.9L934.9 848.1L936.6 846.2L938.3 844.4L940.0 842.5L941.6 840.6L943.2 838.7L944.9 836.9L946.5 835.0L948.1 833.1L949.8 831.2L951.4 829.4L953.1 827.5L954.7 825.7L956.4 823.9L958.1 822.1L959.8 820.3L961.5 818.6L963.3 816.9L965.1 815.2L967.0 813.5L968.9 811.9L970.8 810.4L972.8 808.8L974.9 807.4L976.9 805.9L979.1 804.6L981.2 803.2L983.4 802.0L985.7 800.7L987.9 799.6L990.2 798.5L992.5 797.4L994.8 796.4L997.2 795.5L999.5 794.6L1001.9 793.8L1004.3 793.1L1006.7 792.4L1009.1 791.8L1011.5 791.2L1013.9 790.7L1016.3 790.2L1018.7 789.8L1021.2 789.4L1023.6 789.1L1026.1 788.8L1028.5 788.5L1031.0 788.3L1033.5 788.1L1035.9 787.9L1038.4 787.8L1040.9 787.6L1043.4 787.5L1045.9 787.4L1048.4 787.4L1050.9 787.3L1053.4 787.3L1055.9 787.2L1058.4 787.2L1060.9 787.2L1063.4 787.2L1066.0 787.1L1068.5 787.1L1071.0 787.1L1073.5 787.0L1076.0 787.0L1078.5 786.9L1081.0 786.8L1083.5 786.7L1086.0 786.6L1088.5 786.5L1091.0 786.3L1093.5 786.1L1096.0 786.0L1098.5 785.8L1101.0 785.5L1103.5 785.3L1105.9 785.0L1108.4 784.8L1110.9 784.5L1113.4 784.2L1115.8 783.8L1118.3 783.5L1120.7 783.1L1123.2 782.7L1125.6 782.3L1128.1 781.8L1130.5 781.3L1132.9 780.8L1135.4 780.3L1137.8 779.8L1140.2 779.2L1142.6 778.6L1145.0 778.0L1147.4 777.3L1149.8 776.6L1152.1 775.9L1154.5 775.2L1156.9 774.4L1159.2 773.6L1161.6 772.8L1163.9 771.9L1166.2 771.1L1168.6 770.1L1170.9 769.2L1173.2 768.2L1175.5 767.2L1177.8 766.2L1180.1 765.2L1182.4 764.1L1184.7 763.1L1186.9 762.0L1189.2 760.9L1191.5 759.9L1193.8 758.8L1196.1 757.8L1198.4 756.7L1200.7 755.7L1203.0 754.6L1205.3 753.6L1207.6 752.7L1209.9 751.7L1212.2 750.8L1214.5 749.9L1216.9 749.0L1219.2 748.2L1221.5 747.4L1223.9 746.6L1226.2 745.8L1228.6 745.0L1230.9 744.2L1233.3 743.3L1235.6 742.5L1237.9 741.6L1240.2 740.7L1242.5 739.8L1244.8 738.9L1247.1 737.8L1249.3 736.8L1251.5 735.7L1253.7 734.5L1255.9 733.2L1258.1 732.0L1260.3 730.7L1262.4 729.4L1264.6 728.2L1266.8 727.0L1269.1 725.9L1271.3 724.9L1273.7 724.0L1276.0 723.2L1278.5 722.6L1280.9 722.2L1283.5 722.0L1285.9 723.1L1288.1 724.4L1290.1 726.0L1291.8 727.7L1293.4 729.6L1294.8 731.5L1296.1 733.6L1297.3 735.8L1298.4 738.0L1299.5 740.3L1300.6 742.5L1301.6 744.8L1302.7 747.0L1303.7 749.3L1304.8 751.6L1305.8 753.9L1306.8 756.2L1307.8 758.5L1308.7 760.8L1309.7 763.1L1310.6 765.4L1311.6 767.7L1312.5 770.1L1313.4 772.4L1314.4 774.7L1315.3 777.1L1316.2 779.4L1317.1 781.7L1317.9 784.1L1318.8 786.4L1319.7 788.8L1320.6 791.1L1321.4 793.5L1322.3 795.8L1323.2 798.2L1324.0 800.5L1324.9 802.8L1325.7 805.2L1326.6 807.5L1327.4 809.8L1328.3 812.2L1329.1 814.5L1330.0 816.8L1330.8 819.1L1331.7 821.5L1332.6 823.8L1333.5 826.1L1334.3 828.4L1335.2 830.7L1336.1 833.0L1337.1 835.3L1338.0 837.6L1339.0 839.8L1339.9 842.1L1340.9 844.4L1342.0 846.7L1343.0 849.0L1344.0 851.2L1345.1 853.5L1346.2 855.8L1347.4 858.1L1348.6 860.3L1349.8 862.6L1351.0 864.8L1352.3 867.1L1353.6 869.4L1354.9 871.6L1356.3 873.8L1357.8 875.8L1359.4 877.7L1361.0 879.3L1362.8 880.7L1364.8 881.7L1366.9 882.3L1369.2 882.5L1371.7 882.2L1374.3 881.6L1376.9 880.6L1379.5 879.5L1381.9 878.4L1384.3 877.2L1386.5 876.1L1388.7 874.9L1390.8 873.8L1392.9 872.6L1394.9 871.4L1397.0 870.2L1399.2 869.1L1401.3 867.9L1403.5 866.8L1405.7 865.6L1407.9 864.5L1410.2 863.5L1412.5 862.5L1414.8 861.6L1417.2 860.7L1419.6 859.9L1422.0 859.1L1424.4 858.3L1426.9 857.6L1429.3 856.9L1431.8 856.2L1434.2 855.5L1436.7 854.9L1439.1 854.2L1441.5 853.5L1444.0 852.8L1446.4 852.0L1448.7 851.3L1451.1 850.4L1453.4 849.6L1455.7 848.7L1458.0 847.7L1460.2 846.7L1462.5 845.7L1464.7 844.6L1466.8 843.5L1469.0 842.4L1471.1 841.2L1473.3 840.0L1475.4 838.8L1477.5 837.6L1479.6 836.3L1481.7 835.0L1483.8 833.7L1485.8 832.4L1487.9 831.1L1490.0 829.8L1492.1 828.4L1494.2 827.1L1496.3 825.7L1498.4 824.4L1500.5 823.0L1502.6 821.7L1504.8 820.3L1506.9 819.0L1509.1 817.6L1511.3 816.3L1513.5 815.0L1515.7 813.8L1517.9 812.5L1520.2 811.2L1522.5 810.0L1524.7 808.7L1527.0 807.5L1529.3 806.2L1531.5 805.0L1533.7 803.7L1535.9 802.4L1538.0 801.0L1540.1 799.6L1542.2 798.2L1544.2 796.8L1546.1 795.3L1547.9 793.7L1549.7 792.1L1551.4 790.4L1553.0 788.7L1554.5 786.9L1556.0 785.0L1557.3 783.1L1558.6 781.1L1559.8 779.0L1561.0 776.9L1562.2 774.8L1563.3 772.6L1564.3 770.4L1565.4 768.1L1566.4 765.8L1567.5 763.5L1568.5 761.1L1569.5 758.8L1570.6 756.4L1571.7 754.0L1572.9 751.5L1574.0 749.1L1575.3 746.7L1576.5 744.3L1577.9 741.9L1579.3 739.7L1580.8 737.7L1582.4 735.9L1584.1 734.3L1586.0 733.1L1587.9 732.2L1589.9 731.8L1592.1 731.8L1594.4 732.3L1596.8 733.2L1599.1 734.4L1601.3 735.9L1603.4 737.4L1605.2 739.1L1606.9 740.9L1608.5 742.9L1610.0 744.9L1611.3 747.0L1612.5 749.1L1613.7 751.3L1614.8 753.6L1615.8 755.9L1616.8 758.3L1617.8 760.6L1618.7 763.0L1619.7 765.3L1620.6 767.7L1621.6 770.0L1622.6 772.3L1623.7 774.6L1624.8 776.8L1626.0 779.0L1627.3 781.1L1628.7 783.2L1630.2 785.2L1631.8 787.1L1633.5 789.0L1635.3 790.7L1637.3 792.0L1639.5 792.5L1641.8 792.2L1644.0 791.2L1645.8 789.6L1647.3 787.7L1648.5 785.4L1649.6 783.0L1650.5 780.5L1651.4 778.0L1652.3 775.6L1653.3 773.2L1654.2 770.8L1655.2 768.5L1656.2 766.2L1657.2 763.9L1658.2 761.6L1659.2 759.4L1660.2 757.1L1661.2 754.9L1662.3 752.6L1663.3 750.4L1664.2 748.1L1665.2 745.9L1666.2 743.6L1667.2 741.4L1668.2 739.1L1669.1 736.8L1670.1 734.5L1671.1 732.2L1672.0 730.0L1673.0 727.7L1673.9 725.4L1674.9 723.1L1675.9 720.8L1676.8 718.5L1677.8 716.2L1678.7 713.9L1679.7 711.5L1680.7 709.2L1681.6 706.9L1682.6 704.6L1683.6 702.3L1684.6 700.0L1685.6 697.7L1686.6 695.3L1687.6 693.0L1688.6 690.7L1689.7 688.4L1690.7 686.1L1691.8 683.8L1692.8 681.5L1694.0 679.2L1695.1 677.0L1696.4 674.9L1697.8 672.9L1699.4 671.0L1701.1 669.3L1702.9 667.8L1705.0 666.5L1707.3 665.4L1709.9 664.6L1712.4 664.9L1714.8 665.2L1717.3 665.5L1719.8 665.7L1722.3 666.0L1724.7 666.2L1727.2 666.5L1729.7 666.7L1732.2 666.9L1734.7 667.1L1737.1 667.3L1739.6 667.5L1742.1 667.6L1744.6 667.8L1747.1 668.0L1749.5 668.1L1752.0 668.2L1754.5 668.4L1757.0 668.5L1759.5 668.6L1762.0 668.7L1764.5 668.8L1766.9 668.9L1769.4 668.9L1771.9 669.0L1774.4 669.0L1776.9 669.1L1779.4 669.1L1781.9 669.2L1784.3 669.2L1786.8 669.2L1789.3 669.2L1791.8 669.2L1794.3 669.2L1796.8 669.2L1799.3 669.2L1801.8 669.2L1804.3 669.2L1806.7 669.1L1809.2 669.1L1811.7 669.1L1814.2 669.0L1816.7 669.0L1819.2 668.9L1821.7 668.8L1824.2 668.8L1826.6 668.7L1829.1 668.6L1831.6 668.5L1834.1 668.4L1836.6 668.3L1839.1 668.2L1841.6 668.1L1844.0 668.0L1846.5 667.9L1849.0 667.8L1851.5 667.7" stroke="#df251a" stroke-width="3.8"/>
</g>
<g stroke="#0d0d0d" stroke-width="4.4" fill="none" stroke-linecap="butt">
<path d="M371.5 101.5 H1853.5 V1207.2 M1855.7 1205.0 H371.5 M371.5 1225.0 V662.4 M371.5 642.9 V101.5"/>
</g>
<g stroke="#0d0d0d" stroke-width="3.2">
<path d="M347.5 101.5H371.5 M347.5 169.2H371.5 M347.5 236.9H371.5 M347.5 304.7H371.5 M347.5 372.4H371.5 M347.5 440.1H371.5 M347.5 507.8H371.5 M347.5 575.5H371.5 M359 135.4H371.5 M359 203.1H371.5 M359 270.8H371.5 M359 338.5H371.5 M359 406.2H371.5 M359 474.0H371.5 M359 541.7H371.5 M359 609.4H371.5 M347.5 669.0H371.5 M347.5 794.8H371.5 M347.5 920.6H371.5 M347.5 1046.4H371.5 M347.5 1172.2H371.5 M359.5 731.9H371.5 M359.5 857.7H371.5 M359.5 983.5H371.5 M359.5 1109.3H371.5 M370.6 1205.0V1224.7 M659.5 1205.0V1224.7 M948.5 1205.0V1224.7 M1237.4 1205.0V1224.7 M1526.4 1205.0V1224.7 M1815.3 1205.0V1224.7 M515.1 1205.0V1215.4 M804.0 1205.0V1215.4 M1093.0 1205.0V1215.4 M1381.9 1205.0V1215.4 M1670.9 1205.0V1215.4"/>
</g>
<g stroke="#0d0d0d" stroke-width="3">
<path d="M348 655L393.4 631.7 M348 674.5L393.4 651.3 M1830.7 655L1876.6 632 M1830.7 674.2L1876.6 651.3"/>
</g>
<text x="250.7" y="124.0" font-size="80">16</text>
<text x="249.9" y="191.7" font-size="80">14</text>
<text x="253.1" y="259.4" font-size="80">12</text>
<text x="251.5" y="327.2" font-size="80">10</text>
<text x="291.5" y="394.9" font-size="80">8</text>
<text x="290.7" y="462.6" font-size="80">6</text>
<text x="289.9" y="530.3" font-size="80">4</text>
<text x="293.1" y="598.0" font-size="80">2</text>
<text transform="translate(289.8 692.0) scale(1.06 1)" font-size="80">0</text>
<text transform="translate(156.2 817.8) scale(1.06 1)" font-size="80">-0.02</text>
<text transform="translate(152.8 943.6) scale(1.06 1)" font-size="80">-0.04</text>
<text transform="translate(154.5 1069.4) scale(1.06 1)" font-size="80">-0.06</text>
<text transform="translate(155.3 1195.2) scale(1.06 1)" font-size="80">-0.08</text>
<text transform="translate(306.2 1300.3) scale(1.075 1)" font-size="80">300</text>
<text transform="translate(596.4 1300.3) scale(1.075 1)" font-size="80">450</text>
<text transform="translate(884.5 1300.3) scale(1.075 1)" font-size="80">600</text>
<text transform="translate(1172.1 1300.3) scale(1.075 1)" font-size="80">750</text>
<text transform="translate(1462.8 1300.3) scale(1.075 1)" font-size="80">900</text>
<text transform="translate(1729.7 1300.3) scale(1.075 1)" font-size="80">1050</text>
<path d="M982.6 1054.5H1163.8" stroke="#0d0d0d" stroke-width="3.6"/>
<path d="M982.6 1144.4H1163.8" stroke="#df251a" stroke-width="3.6"/>
<text transform="translate(1179.3 1079.8) scale(0.986 1)" font-size="80">SAPVA particles</text>
<text transform="translate(1178.6 1169.4) scale(0.986 1)" font-size="80">SAPVA/La particles</text>
<text transform="translate(770.6 1439.5) scale(1.054 1)" font-size="96">Temperature (K)</text>
<text transform="translate(98.8 1293.8) rotate(-90) scale(0.9328 1)" font-size="100">Δm/Δt (mg/s) or Weight loss (mg)</text>
</g></svg></body></html>
